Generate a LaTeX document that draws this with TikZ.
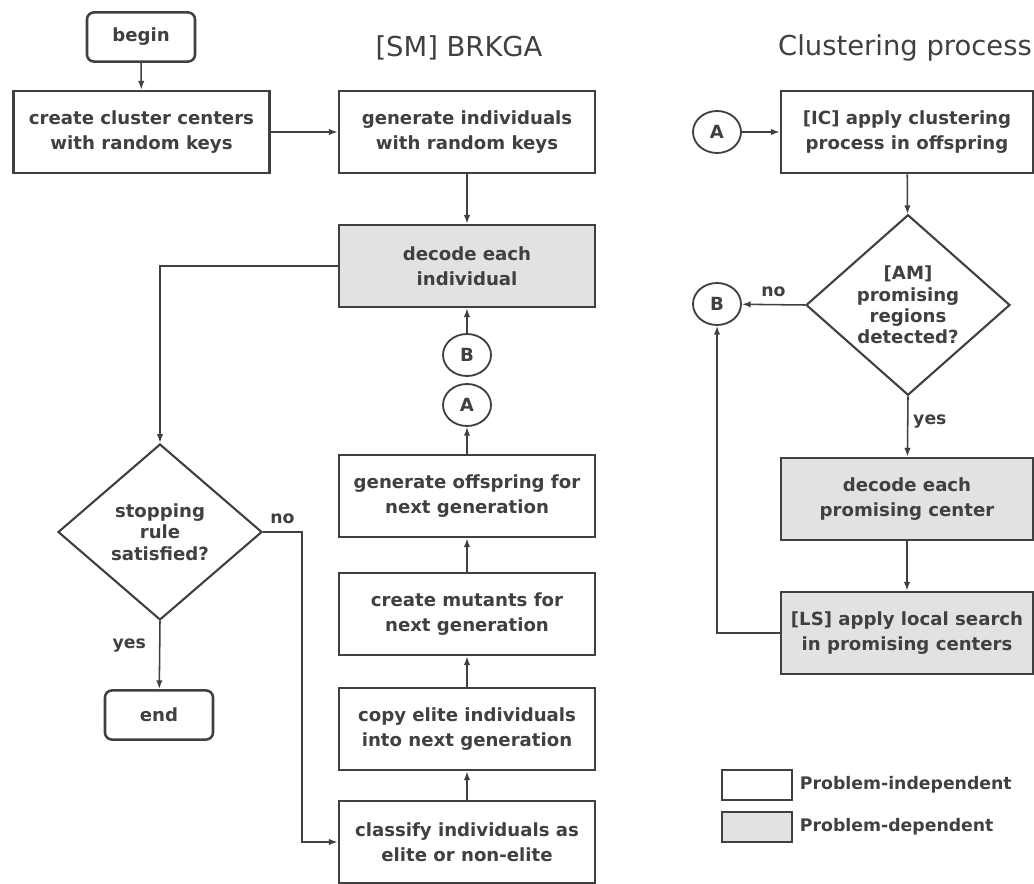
\documentclass[tikz,border=0pt]{standalone}
\usepackage{fontspec}
\setmainfont{DejaVu Sans}
\usepackage{xcolor}
\definecolor{Ink}{RGB}{64,64,64}
\definecolor{Shade}{RGB}{226,226,228}
\usepackage{tikz}
\usetikzlibrary{shapes.geometric}
\usetikzlibrary{arrows.meta}
\tikzstyle{Box}=[rectangle,draw=Ink,line width=1.8pt,fill=white,text=Ink,
minimum width=6.4cm,minimum height=2.05cm,align=center,inner sep=1pt,
font=\fontsize{12.9}{17.8}\selectfont\bfseries]
\tikzstyle{BoxPD}=[Box,fill=Shade]
\tikzstyle{Terminal}=[Box,rounded corners=5pt,minimum width=2.7cm,
minimum height=1.23cm]
\tikzstyle{Test}=[diamond,draw=Ink,line width=1.5pt,fill=white,text=Ink,
align=center,inner sep=0pt,minimum width=5.1cm,minimum height=4.4cm,
font=\fontsize{12.9}{15.2}\selectfont\bfseries]
\tikzstyle{Connector}=[ellipse,draw=Ink,line width=1.3pt,text=Ink,
inner sep=0pt,minimum width=1.2cm,minimum height=1.05cm,
font=\fontsize{12.9}{15}\selectfont\bfseries]
\tikzstyle{Edge}=[draw=Ink,line width=1.1pt,-{Latex[length=2.2mm,width=1.6mm]}]
\tikzstyle{EdgeST}=[text=Ink,font=\fontsize{12.3}{14}\selectfont\bfseries]
\tikzstyle{Title}=[text=Ink,font=\fontsize{19.5}{23}\selectfont]

\begin{document}
\begin{tikzpicture}[x=0.25mm,y=-0.25mm]
        \useasboundingbox(0,0)rectangle(1034,884);
        \node[Title](tSM)at(459,48){[SM] BRKGA};
        \node[Title](tCP)at(905,48){Clustering process};
        \node[Terminal](begin)at(141,37){begin};
        \node[Box](create)at(141.5,132){create cluster centers\\with random keys};
        \node[Box](generate)at(467,132){generate individuals\\with random keys};
        \node[BoxPD](decode)at(467,266){decode each\\individual};
        \node[Connector](Bl)at(467,355){B};
        \node[Connector](Al)at(467,405){A};
        \node[Box](offspring)at(467,496)
            {generate offspring for\\next generation};
        \node[Box](mutants)at(467,614){create mutants for\\next generation};
        \node[Box](copy)at(467,729)
            {copy elite individuals\\into next generation};
        \node[Box](classify)at(467,842)
            {classify individuals as\\elite or non-elite};
        \node[Test](rule)at(160,532){stopping\\rule\\satisfied?};
        \node[Terminal](stop)at(159,715){end};
        \coordinate(noBend)at(302,532);
        \node[Connector](Ar)at(717,132){A};
        \node[Box,minimum width=6.3cm](IC)at(907,132)
            {[IC] apply clustering\\process in offspring};
        \node[Test](AM)at(908,305){[AM]\\promising\\regions\\detected?};
        \node[Connector](Br)at(717,304){B};
        \node[BoxPD,minimum width=6.3cm](decodeP)at(907,499)
            {decode each\\promising center};
        \node[BoxPD,minimum width=6.3cm](LS)at(907,633)
            {[LS] apply local search\\in promising centers};
        \node[Box,minimum width=1.75cm,minimum height=0.75cm](keyPI)at(757,785){};
        \node[BoxPD,minimum width=1.75cm,minimum height=0.75cm](keyPD)at(757,827){};
        \node[EdgeST,anchor=west](keyPIST)at(795,785){Problem-independent};
        \node[EdgeST,anchor=west](keyPDST)at(795,827){Problem-dependent};
        \draw[Edge](begin)--(create);
        \draw[Edge](create)--(generate);
        \draw[Edge](generate)--(decode);
        \draw[Edge](decode.west)-|(rule.north);
        \draw[Edge](rule.south)--node[EdgeST,pos=0.36,left=6pt]{yes}(stop);
        \draw[Edge](rule.east)--node[EdgeST,above=2pt]{no}(noBend)|-(classify.west);
        \draw[Edge](classify)--(copy);
        \draw[Edge](copy)--(mutants);
        \draw[Edge](mutants)--(offspring);
        \draw[Edge](offspring)--(Al);
        \draw[Edge](Bl)--(decode);
        \draw[Edge](Ar)--(IC);
        \draw[Edge](IC)--(AM);
        \draw[Edge](AM.west)--node[EdgeST,above=2pt]{no}(Br);
        \draw[Edge](AM.south)--node[EdgeST,pos=0.41,right=0pt]{yes}(decodeP);
        \draw[Edge](decodeP)--(LS);
        \draw[Edge](LS.west)-|(Br.south);
    \end{tikzpicture}
\end{document}
